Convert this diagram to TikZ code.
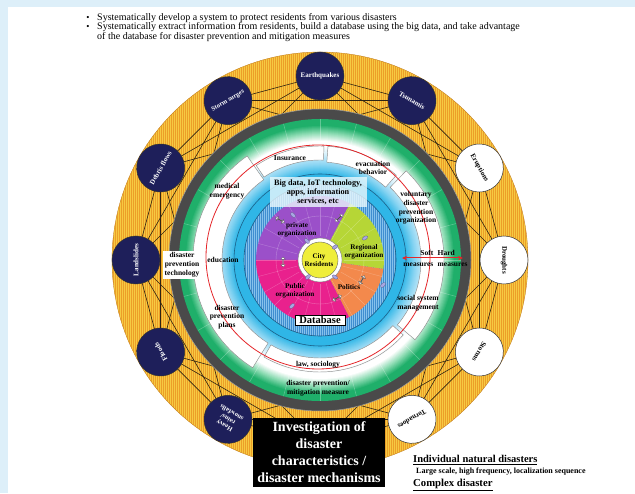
\documentclass[tikz,border=0pt]{standalone}
\usepackage{fontspec}
\setmainfont{Liberation Serif}
\usetikzlibrary{arrows.meta,shapes.arrows,shapes.geometric}

\definecolor{bgblue}{HTML}{DDEFF9}
\definecolor{orangeA}{HTML}{EC9E28}
\definecolor{stripeY}{HTML}{F6CA42}
\definecolor{navyC}{HTML}{1E1F5A}
\definecolor{grayR}{HTML}{4A4A4A}
\definecolor{greenA}{HTML}{1FAF6A}
\definecolor{greenB}{HTML}{8EDCB4}
\definecolor{cyanA}{HTML}{2FB6E7}
\definecolor{cyanB}{HTML}{8DD6F3}
\definecolor{cyanC}{HTML}{D6F0FB}
\definecolor{blueR}{HTML}{3F8DD0}
\definecolor{blueS}{HTML}{86C2EC}
\definecolor{lineB}{HTML}{1C5E86}
\definecolor{purpleP}{HTML}{9B50C9}
\definecolor{limeP}{HTML}{B6D636}
\definecolor{orangeP}{HTML}{F3894C}
\definecolor{magentaP}{HTML}{E9218D}
\definecolor{yellowC}{HTML}{EFEE3A}
\definecolor{redA}{HTML}{E5262A}
\definecolor{lavender}{HTML}{A9A6E3}
\definecolor{webC}{HTML}{2E2412}

% annular sector: start angle, end angle, inner radius, outer radius
\newcommand{\ringsector}[4]{(#1:#3) arc[start angle=#1,end angle=#2,radius=#3] -- (#2:#4) arc[start angle=#2,end angle=#1,radius=#4] -- cycle}

\begin{document}
\begin{tikzpicture}[x=1pt,y=1pt,
  lbl/.style={font=\fontsize{7.5}{8.8}\selectfont\bfseries, align=center, inner sep=0.5pt},
  plbl/.style={font=\fontsize{7.2}{8.2}\selectfont\bfseries, align=center, inner sep=0.5pt},
  dis/.style={circle, minimum size=48, inner sep=0pt, fill=navyC, draw=black!80, line width=0.5,
    text=white, align=center, font=\fontsize{7}{7.6}\selectfont\bfseries},
  disw/.style={dis, fill=white, text=black},
  web/.style={webC, line width=0.6},
  band/.style={fill=white, draw=black!45, line width=0.45},
  pill/.style={ellipse, minimum width=6, minimum height=3.5, inner sep=0pt, fill=lavender, draw=navyC!70, line width=0.3},
  hollow/.style={double arrow, double arrow head extend=1.2, minimum height=10, minimum width=4.5,
    inner sep=0pt, fill=white, draw=black!70, line width=0.35}]
\useasboundingbox (0,0) rectangle (635,493);
\fill[bgblue] (0,0) rectangle (635,493);
\fill[white] (8,0) rectangle (635,486);

% heading bullets
\node[font=\fontsize{9}{9}\selectfont] (b1) at (88,475) {\textbullet};
\node[font=\fontsize{9}{9}\selectfont] (b2) at (88,466) {\textbullet};
\node[anchor=west, inner sep=0, font=\fontsize{10}{10}\selectfont] (t1) at (97,475)
  {Systematically develop a system to protect residents from various disasters};
\node[anchor=west, inner sep=0, font=\fontsize{10}{10}\selectfont] (t2) at (97,466)
  {Systematically extract information from residents, build a database using the big data, and take advantage};
\node[anchor=west, inner sep=0, font=\fontsize{10}{10}\selectfont] (t3) at (97,456)
  {of the database for disaster prevention and mitigation measures};

\begin{scope}[shift={(320,233)}]
  % outer orange ring with fine vertical stripes
  \fill[orangeA] (0,0) circle (208);
  \begin{scope}
    \clip (0,0) circle (208);
    \foreach \x in {-208,-206,...,208} \draw[stripeY, line width=0.5] (\x,-208) -- (\x,208);
  \end{scope}
  \draw[orangeA!80!black, line width=0.3] (0,0) circle (208);

  % web of links between the disaster circles
  \foreach \k in {0,...,11} \coordinate (p\k) at ({90-30*\k}:184);
  \foreach \k in {0,...,11} {
    \foreach \d in {1,2,3} {
      \pgfmathtruncatemacro\j{mod(\k+\d,12)}
      \draw[web] (p\k) -- (p\j);
    }
  }

  % disaster circles
  \node[dis, rotate=0]    (d0)  at (p0)  {Earthquakes};
  \node[dis, rotate=-30]  (d1)  at (p1)  {Tsunamis};
  \node[disw, rotate=-60] (d2)  at (p2)  {Eruptions};
  \node[disw, rotate=-90] (d3)  at (p3)  {Droughts};
  \node[disw, rotate=-120](d4)  at (p4)  {Storms};
  \node[disw, rotate=-150](d5)  at (p5)  {Tornadoes};
  \node[dis, rotate=150, font=\fontsize{6.5}{7.4}\selectfont\bfseries] (d7) at (p7) {Heavy\\rains/\\snowfalls};
  \node[dis, rotate=120]  (d8)  at (p8)  {Floods};
  \node[dis, rotate=90]   (d9)  at (p9)  {Landslides};
  \node[dis, rotate=60]   (d10) at (p10) {Debris flows};
  \node[dis, rotate=30, font=\fontsize{6.5}{7}\selectfont\bfseries] (d11) at (p11) {Storm surges};

  % dark ring
  \fill[grayR] (0,0) circle (151);
  \draw[black!40, line width=0.5] (0,0) circle (151);

  % green ring fading to white, then to cyan towards the database
  \foreach \r in {141,...,135} \fill[greenA] (0,0) circle (\r);
  \foreach \r in {134,...,127} {\pgfmathtruncatemacro\p{100*(\r-127)/8}\fill[greenA!\p!greenB] (0,0) circle (\r);}
  \foreach \r in {126,...,119} {\pgfmathtruncatemacro\p{100*(\r-119)/8}\fill[greenB!\p!white] (0,0) circle (\r);}
  \foreach \r in {118,...,114} \fill[white] (0,0) circle (\r);
  \foreach \r in {113,...,106} {\pgfmathtruncatemacro\p{100*(\r-106)/8}\fill[white!\p!cyanC] (0,0) circle (\r);}
  \foreach \r in {105,...,96} {\pgfmathtruncatemacro\p{100*(\r-96)/10}\fill[cyanC!\p!cyanB] (0,0) circle (\r);}
  \foreach \r in {95,...,86} {\pgfmathtruncatemacro\p{100*(\r-86)/10}\fill[cyanB!\p!cyanA] (0,0) circle (\r);}
  \foreach \a in {0,15,...,345} \draw[white, opacity=0.3, line width=0.5] (\a:120) -- (\a:141);

  % white band of measures
  \filldraw[band] \ringsector{125}{238}{98}{127};
  \filldraw[band] \ringsector{88}{124}{100}{114};
  \filldraw[band] \ringsector{48}{86}{98}{114};
  \filldraw[band] \ringsector{-40}{46}{101}{124};
  \filldraw[band] \ringsector{240}{318}{98}{112};

  % red boundary between soft and hard measures
  \draw[redA, line width=0.8] (-2,3) circle (112);

  % database rings
  \draw[lineB, line width=0.6] (0,0) circle (86);
  \fill[blueR] (0,0) circle (76);
  \begin{scope}
    \clip (0,0) circle (76);
    \foreach \x in {-76,-74,...,76} \draw[blueS, line width=0.6] (\x,-76) -- (\x,76);
  \end{scope}
  \draw[lineB, line width=0.6] (0,0) circle (76);

  % organisations
  \fill[purpleP]  (0,0) -- (62:64) arc[start angle=62, end angle=180, radius=64] -- cycle;
  \fill[limeP]    (0,0) -- (-8:64) arc[start angle=-8, end angle=62, radius=64] -- cycle;
  \fill[orangeP]  (0,0) -- (-63:64) arc[start angle=-63, end angle=-8, radius=64] -- cycle;
  \fill[magentaP] (0,0) -- (180:64) arc[start angle=180, end angle=297, radius=64] -- cycle;
  \foreach \a in {0,15,...,345} \draw[white, opacity=0.25, line width=0.4] (\a:24) -- (\a:64);
  \draw[white, opacity=0.3, line width=0.4] (0,0) circle (44);

  % residents at the centre
  \fill[white] (0,0) circle (22);
  \draw[black!50, line width=0.4] (0,0) circle (22);
  \filldraw[fill=yellowC, draw=black!60, line width=0.4] (0,0) circle (18);

  % small exchange markers
  \node[hollow, rotate=90]  (h1) at (-37,-2) {};
  \node[hollow, rotate=45]  (h2) at (19,42) {};
  \node[hollow, rotate=60]  (h3) at (42,-20) {};
  \node[hollow, rotate=30]  (h4) at (17,-38) {};
  \node[hollow, rotate=-30] (h5) at (-40,40) {};
  \node[pill, rotate=-45] (m1) at (-27,45) {};
  \node[pill, rotate=-45] (m2) at (-13,19) {};
  \node[pill, rotate=30]  (m3) at (15,13) {};
  \node[pill, rotate=30]  (m4) at (45,22) {};
  \node[pill, rotate=-30] (m5) at (15,-17) {};
  \node[pill, rotate=45]  (m6) at (-12,-17) {};
  \node[pill, rotate=45]  (m7) at (63,-25) {};
  \node[pill, rotate=45]  (m8) at (-28,-46) {};

  % labels
  \node[plbl, font=\fontsize{7}{8}\selectfont\bfseries] (cr) at (-1,0) {City\\Residents};
  \node[plbl] (po) at (-23,30) {private\\organization};
  \node[plbl] (ro) at (44,8) {Regional\\organization};
  \node[plbl] (pl) at (29,-27) {Politics};
  \node[plbl] (pu) at (-25,-31) {Public\\organization};
  \node[lbl, font=\fontsize{8.2}{9.2}\selectfont\bfseries, fill=cyanC!50, fill opacity=0.8, text opacity=1,
    minimum width=97, minimum height=30] (bd) at (-2,68) {Big data, IoT technology,\\apps, information\\services, etc};
  \node[font=\fontsize{10.5}{11}\selectfont\bfseries, fill=white, draw=black, line width=0.5,
    inner sep=1.5pt, minimum width=50] (db) at (0,-60) {Database};

  \node[lbl] (ins) at (-30,102) {Insurance};
  \node[lbl] (ev)  at (53,92) {evacuation\\behavior};
  \node[lbl] (me)  at (-93,69) {medical\\emergency};
  \node[lbl] (vo)  at (96,52) {voluntary\\disaster\\prevention\\organization};
  \node[lbl] (ed)  at (-97,0) {education};
  \node[lbl, fill=white, inner sep=1.5pt] (dt) at (-138,-5) {disaster\\prevention\\technology};
  \node[lbl] (ss)  at (98,-43) {social system\\management};
  \node[lbl] (dp)  at (-93,-57) {disaster\\prevention\\plans};
  \node[lbl] (ls)  at (-2,-105) {law, sociology};
  \node[lbl] (mm)  at (-2,-128) {disaster prevention/\\mitigation measure};

  % soft and hard measures
  \node[lbl, anchor=east] (so) at (114,7) {Soft};
  \node[lbl, anchor=east] (sm) at (114,-5) {measures};
  \node[lbl, anchor=west] (ha) at (117,7) {Hard};
  \node[lbl, anchor=west] (hm) at (117,-5) {measures};
  \coordinate (sl) at (82,2);
  \coordinate (sr) at (143,2);
  \draw[redA, line width=1, {Stealth[length=5pt,width=4.5pt]}-{Stealth[length=5pt,width=4.5pt]}] (sl) -- (sr);
\end{scope}

% investigation box
\node[fill=black, text=white, minimum width=132, minimum height=69, inner sep=0pt, align=center,
  font=\fontsize{14}{17}\selectfont\bfseries] (inv) at (319,40.5)
  {Investigation of\\disaster\\characteristics /\\disaster mechanisms};

% classification notes
\node[anchor=west, inner sep=0, font=\fontsize{10.5}{10}\selectfont\bfseries] (ind) at (413,33)
  {\underline{Individual natural disasters}};
\node[anchor=west, inner sep=0, font=\fontsize{8}{8}\selectfont\bfseries] (lsc) at (416,21.5)
  {Large scale, high frequency, localization sequence};
\node[anchor=west, inner sep=0, font=\fontsize{10.7}{10}\selectfont\bfseries] (cpx) at (413,8)
  {\underline{Complex disaster}};
\end{tikzpicture}
\end{document}
